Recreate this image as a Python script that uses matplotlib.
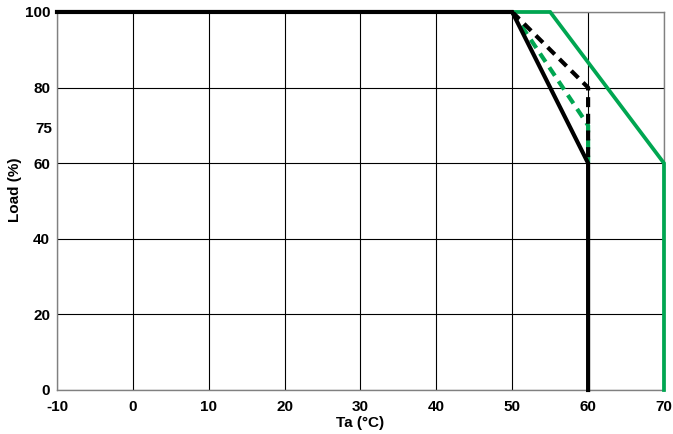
import numpy as np
import matplotlib
matplotlib.use('Agg')
import matplotlib.pyplot as plt

# derating curves, Ta (C) vs load (%)
ta_black = [-10, 50, 60, 60]
load_black = [100, 100, 60, 0]
ta_black_dash = [50, 60, 60]
load_black_dash = [100, 80, 60]
ta_green_dash = [50, 60, 60]
load_green_dash = [100, 70, 60]
ta_green = [50, 55, 70, 70]
load_green = [100, 100, 60, 0]

xticks = [-10, 0, 10, 20, 30, 40, 50, 60, 70]
yticks = [0, 20, 40, 60, 80, 100]
extra_label = '75'
extra_pos = 69.5

plt.rcParams['font.family'] = ['Liberation Sans', 'DejaVu Sans']
plt.rcParams['font.weight'] = 'bold'
plt.rcParams['axes.unicode_minus'] = False

fig = plt.figure(figsize=(6.73, 4.34), dpi=100, facecolor='w')
ax = fig.add_axes([0.0847, 0.1014, 0.9019, 0.871])

ax.plot(ta_green, load_green, color='#00a651', lw=2.7, solid_joinstyle='miter', zorder=4, clip_on=False)
ax.plot(ta_green_dash, load_green_dash, color='#00a651', lw=3, ls=(0, (2.4, 1.6)), zorder=5)
ax.plot(ta_black_dash, load_black_dash, color='k', lw=3, ls=(0, (2.4, 1.6)), zorder=6)
ax.plot(ta_black, load_black, color='k', lw=3, solid_joinstyle='miter', zorder=7, clip_on=False)

ax.set_xlim(-10, 70)
ax.set_ylim(0, 100)
ax.set_xticks(xticks)
ax.set_yticks(yticks)
ax.set_yticks([extra_pos], [extra_label], minor=True)
ax.grid(True, which='major', color='k', lw=0.8)
ax.tick_params(which='both', length=0, labelsize=11)
ax.tick_params(axis='x', pad=7)
ax.tick_params(axis='y', pad=5)
for lbl in ax.get_xticklabels() + ax.get_yticklabels() + ax.get_yticklabels(minor=True):
    lbl.set_fontweight('bold')
for s in ax.spines.values():
    s.set_color('#808080')
    s.set_linewidth(1.0)

ax.set_xlabel('Ta (°C)', fontsize=11, fontweight='bold', labelpad=2)
ax.set_ylabel('Load (%)', fontsize=11, fontweight='bold')
ax.yaxis.set_label_coords(-0.057, 0.53)

plt.savefig('out.png', dpi=100)
